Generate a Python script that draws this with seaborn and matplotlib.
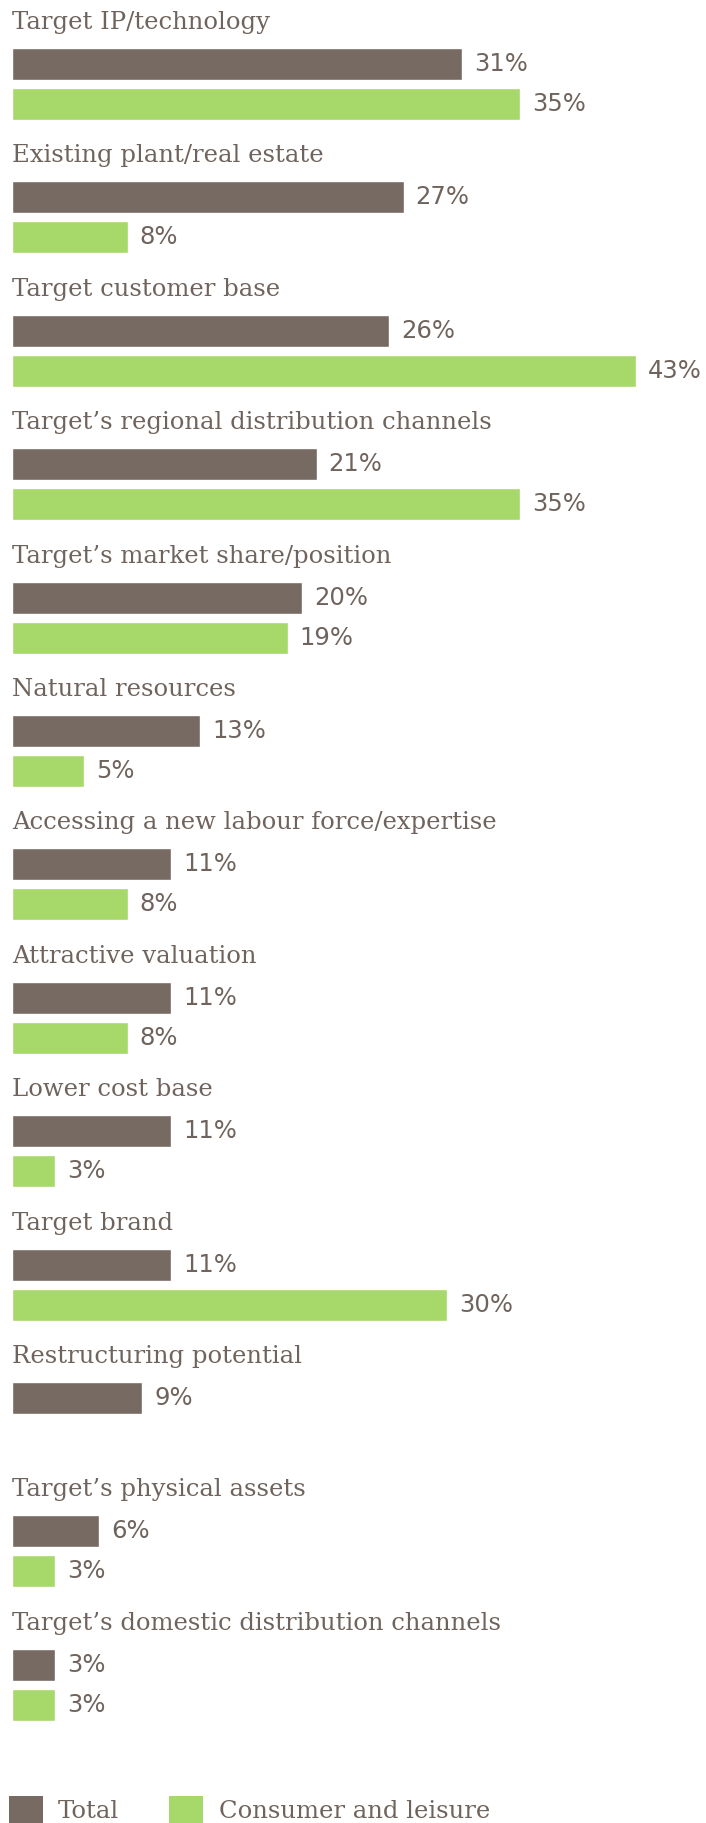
import matplotlib
matplotlib.use("Agg")
import matplotlib.pyplot as plt
from matplotlib.patches import Patch
import pandas as pd
import seaborn as sns

# Survey data: share of respondents citing each driver
categories = [
    "Target IP/technology",
    "Existing plant/real estate",
    "Target customer base",
    "Target\u2019s regional distribution channels",
    "Target\u2019s market share/position",
    "Natural resources",
    "Accessing a new labour force/expertise",
    "Attractive valuation",
    "Lower cost base",
    "Target brand",
    "Restructuring potential",
    "Target\u2019s physical assets",
    "Target\u2019s domestic distribution channels",
]
total = [31, 27, 26, 21, 20, 13, 11, 11, 11, 11, 9, 6, 3]
consumer = [35, 8, 43, 35, 19, 5, 8, 8, 3, 30, None, 3, 3]
series = ["Total", "Consumer and leisure"]

DARK = "#776a62"
GREEN = "#a7d86a"
TEXT = "#6f645d"

rows = []
for cat, t, c in zip(categories, total, consumer):
    rows.append({"category": cat, "series": series[0], "value": t})
    if c is not None:
        rows.append({"category": cat, "series": series[1], "value": c})
df = pd.DataFrame(rows)

sns.set_theme(style="white")
plt.rcParams["font.family"] = ["DejaVu Serif"]

W, H = 706, 1823
fig = plt.figure(figsize=(W / 100, H / 100), dpi=100)
ax = fig.add_axes([0, 0, 1, 1])

sns.barplot(
    data=df, y="category", x="value", hue="series",
    order=categories, hue_order=series,
    palette=[DARK, GREEN], saturation=1, orient="h",
    width=0.6, gap=0.2, legend=False, ax=ax,
)

# horizontal scale: bars start 11.7 px in, 14.52 px per percentage point
left_px, px_per_pct = 11.7, 14.52
ax.set_xlim(-left_px / px_per_pct, (W - left_px) / px_per_pct)
# vertical scale: 133.4 px between groups, first group centred 84 px down
step, first = 133.4, 84
ax.set_ylim((H - first) / step, -first / step)

FS = 17.5
for container in ax.containers:
    ax.bar_label(container, fmt="{:.0f}%", padding=8.6, color=TEXT,
                 fontsize=FS, family="DejaVu Sans")

for i, cat in enumerate(categories):
    ax.text(0, i - 0.412, cat, color=TEXT, fontsize=FS, va="baseline",
            ha="left")

ax.set_axis_off()

handles = [Patch(facecolor=DARK, edgecolor="none"),
           Patch(facecolor=GREEN, edgecolor="none")]
fig.legend(handles, series, loc="center left",
           bbox_to_anchor=(9 / W, 1 - 1810 / H),
           ncol=2, frameon=False, fontsize=FS, labelcolor=TEXT,
           handlelength=1.4, handleheight=1.4, handletextpad=0.62,
           columnspacing=2.06, borderpad=0.0, borderaxespad=0.0)

fig.savefig("out.png", dpi=100, facecolor="white")
